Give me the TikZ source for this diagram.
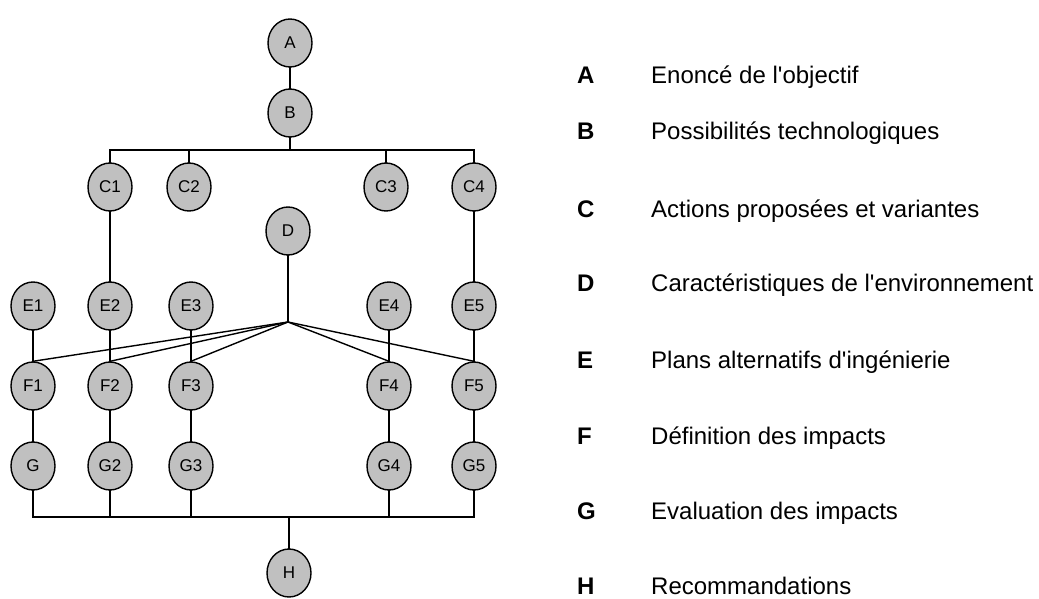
\documentclass[tikz,border=0pt]{standalone}
\usepackage{fontspec}
\setmainfont{Liberation Sans}
\usetikzlibrary{shapes.geometric}
\definecolor{nodegray}{RGB}{192,192,192}
\tikzset{
  bubble/.style={ellipse, draw=black, line width=1.4pt, fill=nodegray,
    minimum width=44pt, minimum height=48pt, inner sep=0pt,
    font=\fontsize{17}{19}\selectfont},
  conn/.style={line width=1.4pt, line cap=rect},
  legkey/.style={anchor=base west, inner sep=0pt, font=\fontsize{24}{28}\selectfont\bfseries},
  legtext/.style={anchor=base west, inner sep=0pt, font=\fontsize{24}{28}\selectfont}
}
\begin{document}
\begin{tikzpicture}[x=1pt,y=-1pt]
\useasboundingbox (0,0) rectangle (1039,599);
% nodes
\node[bubble] (A) at (290,43) {A};
\node[bubble] (B) at (290,113) {B};
\node[bubble] (C1) at (110,187) {C1};
\node[bubble] (C2) at (189,187) {C2};
\node[bubble] (C3) at (386,187) {C3};
\node[bubble] (C4) at (474,187) {C4};
\node[bubble] (D) at (288,231) {D};
\node[bubble] (E1) at (33,306) {E1};
\node[bubble] (E2) at (110,306) {E2};
\node[bubble] (E3) at (191,306) {E3};
\node[bubble] (E4) at (389,306) {E4};
\node[bubble] (E5) at (474,306) {E5};
\node[bubble] (F1) at (33,386) {F1};
\node[bubble] (F2) at (110,386) {F2};
\node[bubble] (F3) at (191,386) {F3};
\node[bubble] (F4) at (389,386) {F4};
\node[bubble] (F5) at (474,386) {F5};
\node[bubble] (G1) at (33,466) {G};
\node[bubble] (G2) at (110,466) {G2};
\node[bubble] (G3) at (191,466) {G3};
\node[bubble] (G4) at (389,466) {G4};
\node[bubble] (G5) at (474,466) {G5};
\node[bubble] (H) at (289,573) {H};
\coordinate (tb) at (290,150);
\coordinate (hub) at (288,322);
\coordinate (bb) at (289,517);
% connectors
\draw[conn] (A) -- (B);
\draw[conn] (B) -- (tb);
\draw[conn] (C1.north) |- (tb) -| (C4.north);
\draw[conn] (C2.north) -- (C2.north |- tb);
\draw[conn] (C3.north) -- (C3.north |- tb);
\draw[conn] (C1) -- (E2);
\draw[conn] (C4) -- (E5);
\draw[conn] (D) -- (hub);
\foreach \i in {1,...,5}{
  \draw[conn] (E\i) -- (F\i);
  \draw[conn] (F\i) -- (G\i);
  \draw[conn] (hub) -- (F\i.north);
}
\draw[conn] (G1.south) |- (bb) -| (G5.south);
\draw[conn] (G2.south) -- (G2.south |- bb);
\draw[conn] (G3.south) -- (G3.south |- bb);
\draw[conn] (G4.south) -- (G4.south |- bb);
\draw[conn] (bb) -- (H);
% legend
\node[legkey] (kA) at (577,84) {A};
\node[legkey] (kB) at (577,140) {B};
\node[legkey] (kC) at (577,217) {C};
\node[legkey] (kD) at (577,291) {D};
\node[legkey] (kE) at (577,368) {E};
\node[legkey] (kF) at (577,444) {F};
\node[legkey] (kG) at (577,519) {G};
\node[legkey] (kH) at (577,594) {H};
\node[legtext] (tA) at (651,84) {Enoncé de l\textquotesingle objectif};
\node[legtext] (tB) at (651,140) {Possibilités technologiques};
\node[legtext] (tC) at (651,217) {Actions proposées et variantes};
\node[legtext] (tD) at (651,291) {Caractéristiques de l\textquotesingle environnement};
\node[legtext] (tE) at (651,368) {Plans alternatifs d\textquotesingle ingénierie};
\node[legtext] (tF) at (651,444) {Définition des impacts};
\node[legtext] (tG) at (651,519) {Evaluation des impacts};
\node[legtext] (tH) at (651,594) {Recommandations};
\end{tikzpicture}
\end{document}
